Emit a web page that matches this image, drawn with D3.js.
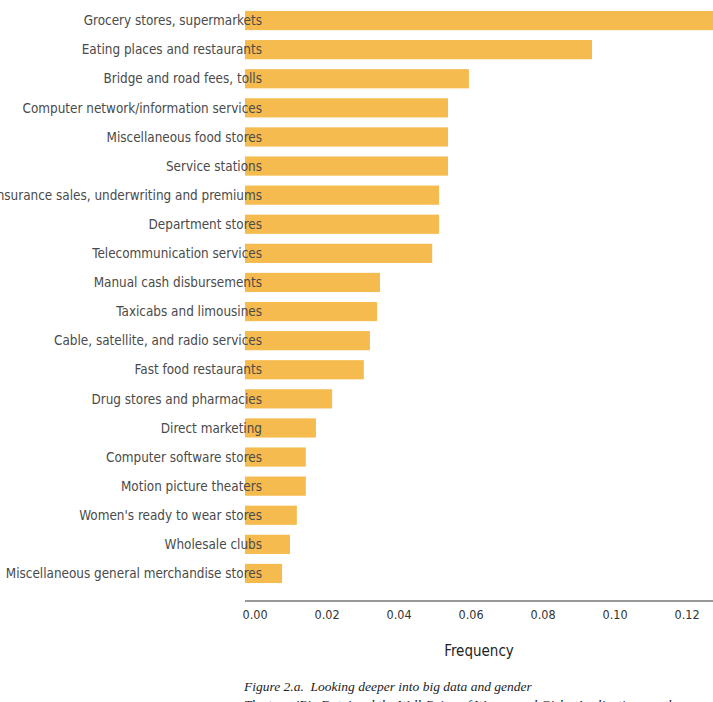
<!DOCTYPE html>
<html>
<head>
<meta charset="utf-8">
<script src="https://cdn.jsdelivr.net/npm/d3@7"></script>
<style>
  body { margin: 0; background: #fff; overflow: hidden; }
  svg { display: block; }
</style>
</head>
<body>
<div id="chart"></div>
<script>
const categories = [
  "Grocery stores, supermarkets",
  "Eating places and restaurants",
  "Bridge and road fees, tolls",
  "Computer network/information services",
  "Miscellaneous food stores",
  "Service stations",
  "Insurance sales, underwriting and premiums",
  "Department stores",
  "Telecommunication services",
  "Manual cash disbursements",
  "Taxicabs and limousines",
  "Cable, satellite, and radio services",
  "Fast food restaurants",
  "Drug stores and pharmacies",
  "Direct marketing",
  "Computer software stores",
  "Motion picture theaters",
  "Women's ready to wear stores",
  "Wholesale clubs",
  "Miscellaneous general merchandise stores"
];
const frequency = [0.135, 0.0964, 0.0622, 0.0564, 0.0564, 0.0564, 0.0539, 0.0539, 0.052,
  0.0375, 0.0367, 0.0347, 0.033, 0.0242, 0.0197, 0.0169, 0.0169, 0.0144, 0.0125, 0.0103];
const ticks = [0, 0.02, 0.04, 0.06, 0.08, 0.10, 0.12];

const W = 713, H = 702;
const margin = {top: 6, left: 245};
const x = d3.scaleLinear().domain([0, 0.13]).range([margin.left, margin.left + 0.13 * 3600]);
const y = d3.scaleBand().domain(categories).range([6, 588]).paddingInner(0.34).paddingOuter(0.17);

const svg = d3.select("#chart").append("svg")
  .attr("width", W).attr("height", H);

svg.append("g").selectAll("rect")
  .data(categories)
  .join("rect")
  .attr("x", x(0))
  .attr("y", d => y(d))
  .attr("width", (d, i) => x(frequency[i]) - x(0))
  .attr("height", y.bandwidth())
  .attr("fill", "#f6bb4f");

svg.append("g").selectAll("text")
  .data(categories)
  .join("text")
  .attr("x", 262)
  .attr("y", d => y(d) + y.bandwidth() / 2)
  .attr("dy", "0.35em")
  .attr("text-anchor", "end")
  .attr("font-family", "'DejaVu Sans Condensed', 'DejaVu Sans'")
  .attr("font-size", 13.4)
  .attr("fill", "#4a4a4a")
  .text(d => d);

// x axis
const axis = svg.append("g")
  .attr("transform", "translate(0,601)")
  .call(d3.axisBottom(x).tickValues(ticks).tickFormat(d3.format(".2f")).tickSize(0).tickPadding(9));
axis.select(".domain").attr("stroke", "#333").attr("stroke-width", 1.2)
  .attr("d", `M${x(0)},0H${W}`);
axis.selectAll("text")
  .attr("text-anchor", "start")
  .attr("dx", -3)
  .attr("font-family", "'DejaVu Sans Condensed', 'DejaVu Sans'")
  .attr("font-size", 12.5)
  .attr("fill", "#333");

svg.append("text")
  .attr("x", 479).attr("y", 656)
  .attr("text-anchor", "middle")
  .attr("font-family", "'DejaVu Sans Condensed', 'DejaVu Sans'")
  .attr("font-size", 15)
  .attr("fill", "#222")
  .text("Frequency");

// caption
svg.append("text")
  .attr("x", 244).attr("y", 691)
  .attr("font-family", "'Liberation Serif', serif")
  .attr("font-style", "italic")
  .attr("font-size", 13.5)
  .attr("fill", "#222")
  .attr("xml:space", "preserve")
  .text("Figure 2.a.  Looking deeper into big data and gender");
svg.append("text")
  .attr("x", 244).attr("y", 709)
  .attr("font-family", "'Liberation Serif', serif")
  .attr("font-style", "italic")
  .attr("font-size", 13.5)
  .attr("fill", "#222")
  .text("The term 'Big Data' and the Well-Being of Women and Girls: Applications on the");
</script>
</body>
</html>
